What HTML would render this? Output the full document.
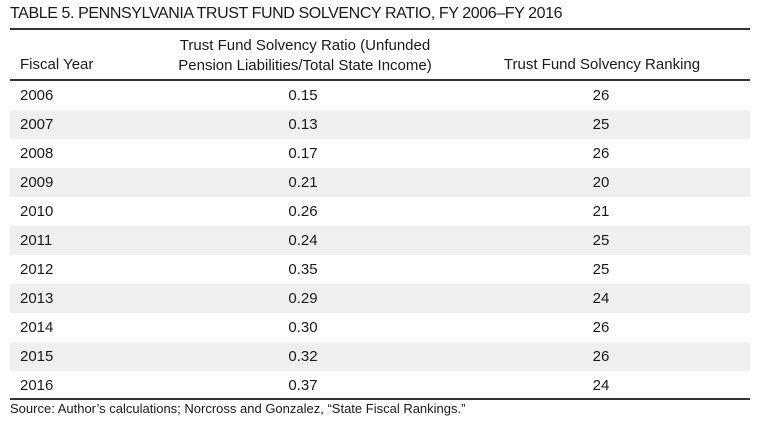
<!DOCTYPE html>
<html><head><style>
body{margin:0;width:768px;height:422px;background:#fff;font-family:"Liberation Sans",sans-serif;color:#1a1a1a;position:relative;overflow:hidden}
.t{position:absolute;left:10px;top:5px;font-size:16px;letter-spacing:-0.4px}
.line{position:absolute;left:10px;width:740px;background:#333}
.row{position:absolute;left:10px;width:740px;height:29px;font-size:15px;line-height:29px}
.row span{position:absolute}
.c1{left:10px}.c2{left:233px;width:120px;text-align:center}.c3{left:531px;width:120px;text-align:center}
.sh{background:#efefef}
.h{position:absolute;font-size:15px;line-height:20px}
.src{position:absolute;left:10px;top:401px;font-size:13px}
</style></head><body>
<div class="t">TABLE 5. PENNSYLVANIA TRUST FUND SOLVENCY RATIO, FY 2006–FY 2016</div>
<div class="line" style="top:28px;height:2px"></div>
<div class="h" style="left:20px;top:55px">Fiscal Year</div>
<div class="h" style="left:160px;width:290px;top:36px;text-align:center">Trust Fund Solvency Ratio (Unfunded<br>Pension Liabilities/Total State Income)</div>
<div class="h" style="left:482px;width:240px;top:55px;text-align:center">Trust Fund Solvency Ranking</div>
<div class="line" style="top:79px;height:1.5px"></div>
<div class="row" style="top:81px"><span class="c1">2006</span><span class="c2">0.15</span><span class="c3">26</span></div>
<div class="row sh" style="top:110px"><span class="c1">2007</span><span class="c2">0.13</span><span class="c3">25</span></div>
<div class="row" style="top:139px"><span class="c1">2008</span><span class="c2">0.17</span><span class="c3">26</span></div>
<div class="row sh" style="top:168px"><span class="c1">2009</span><span class="c2">0.21</span><span class="c3">20</span></div>
<div class="row" style="top:197px"><span class="c1">2010</span><span class="c2">0.26</span><span class="c3">21</span></div>
<div class="row sh" style="top:226px"><span class="c1">2011</span><span class="c2">0.24</span><span class="c3">25</span></div>
<div class="row" style="top:255px"><span class="c1">2012</span><span class="c2">0.35</span><span class="c3">25</span></div>
<div class="row sh" style="top:284px"><span class="c1">2013</span><span class="c2">0.29</span><span class="c3">24</span></div>
<div class="row" style="top:313px"><span class="c1">2014</span><span class="c2">0.30</span><span class="c3">26</span></div>
<div class="row sh" style="top:342px"><span class="c1">2015</span><span class="c2">0.32</span><span class="c3">26</span></div>
<div class="row" style="top:371px"><span class="c1">2016</span><span class="c2">0.37</span><span class="c3">24</span></div>
<div class="line" style="top:398px;height:1.5px"></div>
<div class="src">Source: Author’s calculations; Norcross and Gonzalez, “State Fiscal Rankings.”</div>
</body></html>
